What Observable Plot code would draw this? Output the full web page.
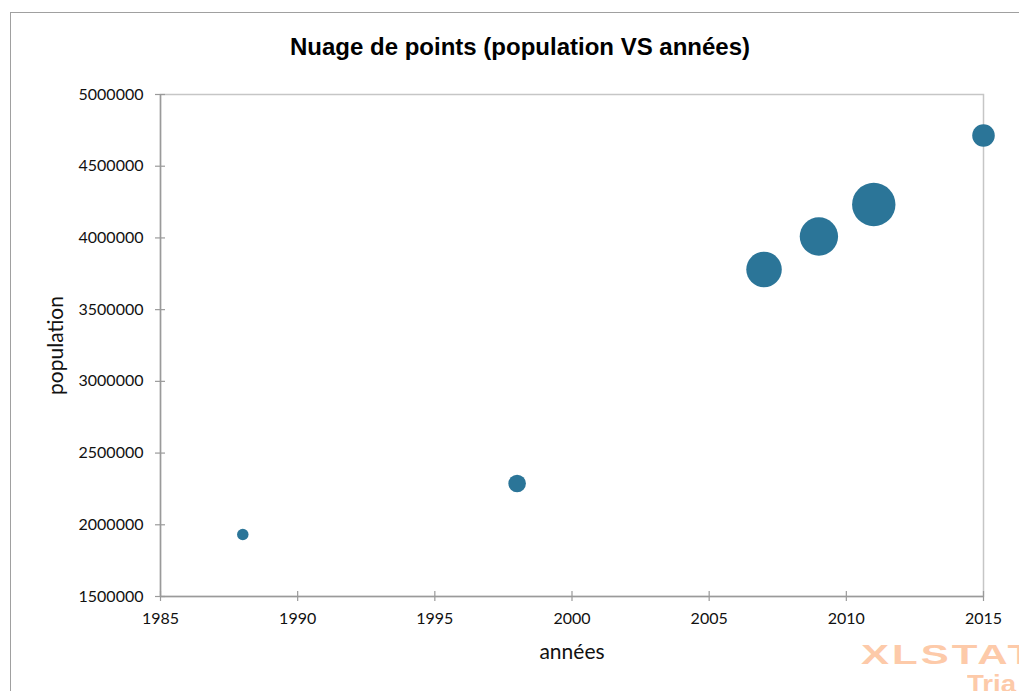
<!DOCTYPE html>
<html>
<head>
<meta charset="utf-8">
<script src="https://cdn.jsdelivr.net/npm/d3@7"></script>
<script src="https://cdn.jsdelivr.net/npm/@observablehq/plot@0.6"></script>
<style>
  html, body { margin: 0; padding: 0; background: #fff; overflow: hidden; }
  #wrap { position: relative; width: 1019px; height: 691px; overflow: hidden; }
  #border { position: absolute; left: 10px; top: 12px; width: 1100px; height: 800px; border: 1px solid #a0a0a0; box-sizing: border-box; }
  #title { position: absolute; left: 10px; width: 1020px; top: 33px; text-align: center;
           font-family: "Liberation Sans", Arial, sans-serif; font-weight: bold; font-size: 24px; color: #000; }
  #logo1 { position: absolute; left: 861px; top: 639px; font-family: "Liberation Sans", Arial, sans-serif;
           font-weight: bold; font-size: 28px; color: #fdcaa9; letter-spacing: 2px; white-space: nowrap;
           transform: scaleX(1.5); transform-origin: left top; }
  #logo2 { position: absolute; left: 967px; top: 670px; font-family: "Liberation Sans", Arial, sans-serif;
           font-weight: bold; font-size: 24px; color: #fdcaa9; white-space: nowrap;
           transform: scaleX(1.15); transform-origin: left top; }
  #chart { position: absolute; left: 0; top: 0; }
</style>
</head>
<body>
<div id="wrap">
  <div id="border"></div>
  <div id="title">Nuage de points (population VS années)</div>
  <div id="chart"></div>
  <div id="logo1">XLSTAT</div>
  <div id="logo2">Tria</div>
</div>
<script>
const annees = [1988, 1998, 2007, 2009, 2011, 2015];
const population = [1932000, 2288000, 3780000, 4010000, 4233000, 4714000];
const poids = [7, 16.4, 67, 78, 100, 27];
const xTicks = [1985, 1990, 1995, 2000, 2005, 2010, 2015];
const yTicks = [1500000, 2000000, 2500000, 3000000, 3500000, 4000000, 4500000, 5000000];

const data = annees.map((a, i) => ({annee: a, population: population[i], poids: poids[i]}));
const font = "Lato, 'Open Sans', sans-serif";

const chart = Plot.plot({
  width: 1019,
  height: 691,
  marginLeft: 160,
  marginRight: 36,
  marginTop: 94,
  marginBottom: 95,
  style: {fontFamily: font, fontSize: "16px", color: "#111", background: "transparent"},
  x: {domain: [xTicks[0], xTicks[xTicks.length - 1]]},
  y: {domain: [yTicks[0], yTicks[yTicks.length - 1]]},
  r: {type: "sqrt", domain: [0, 100], range: [0, 21.7]},
  marks: [
    Plot.frame({stroke: "#c6c6c6", strokeWidth: 1.5}),
    Plot.ruleX([xTicks[0]], {stroke: "#9a9a9a", strokeWidth: 1.5}),
    Plot.ruleY([yTicks[0]], {stroke: "#9a9a9a", strokeWidth: 1.5}),
    // tick marks crossing the axes
    Plot.axisX({ticks: xTicks, tickSize: 10, dy: -5, text: null, stroke: "#9a9a9a", strokeWidth: 1.2, label: null}),
    Plot.axisY({ticks: yTicks, tickSize: 10, dx: 5, text: null, stroke: "#9a9a9a", strokeWidth: 1.2, label: null}),
    // labels
    Plot.axisX({ticks: xTicks, tickSize: 0, tickPadding: 16, tickFormat: d => String(d), fontSize: 16,
                label: "années", labelAnchor: "center", labelArrow: "none", labelOffset: 62}),
    Plot.axisY({ticks: yTicks, tickSize: 0, tickPadding: 17, tickFormat: d => String(d), fontSize: 16,
                label: "population", labelAnchor: "center", labelArrow: "none", labelOffset: 112}),
    Plot.dot(data, {x: "annee", y: "population", r: "poids", fill: "#2b7598", stroke: null})
  ]
});

// enlarge axis labels
chart.querySelectorAll("[aria-label='x-axis label'] text, [aria-label='y-axis label'] text").forEach(t => {
  t.setAttribute("font-size", "21");
  t.style.fontSize = "21px";
});
document.getElementById("chart").appendChild(chart);
</script>
</body>
</html>
